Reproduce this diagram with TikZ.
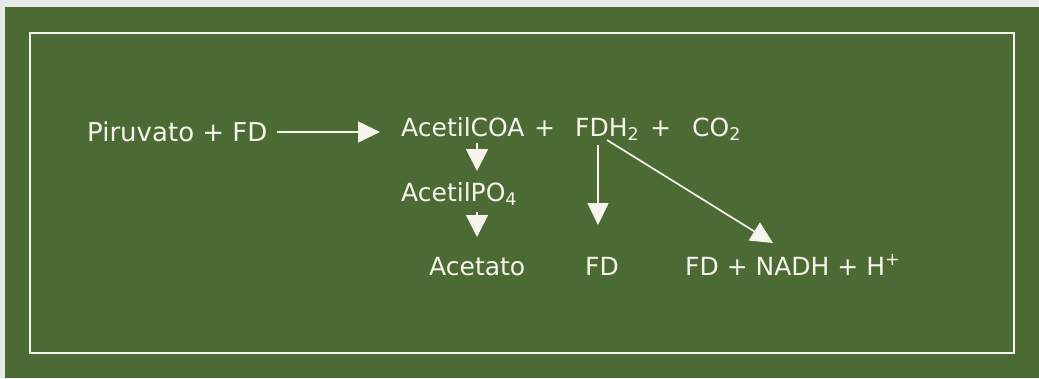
\documentclass[tikz,border=0pt]{standalone}
\usepackage{fontspec}
\setmainfont{DejaVu Sans}
\usetikzlibrary{arrows.meta}
\definecolor{bgpaper}{HTML}{E8EAE8}
\definecolor{board}{HTML}{4C6A34}
\definecolor{chalk}{HTML}{F6F3EC}
\tikzset{
  lbl/.style={inner sep=0pt, anchor=base west, text=chalk, font=\fontsize{25}{30}\selectfont},
  lblbig/.style={lbl, font=\fontsize{26}{31}\selectfont},
  arr/.style={draw=chalk, line width=1.7pt, -{Triangle[width=21pt,length=22pt]}},
  arrshort/.style={draw=chalk, line width=1.7pt, -{Triangle[width=22pt,length=22pt]}},
}
\begin{document}
\begin{tikzpicture}[x=1pt,y=-1pt]
\useasboundingbox (0,0) rectangle (1039,378);
\fill[bgpaper] (0,0) rectangle (1039,378);
\fill[board] (5,7) rectangle (1039,378);
\draw[chalk, line width=1.8pt] (30,33) rectangle (1014,353);

% row 1
\node[lblbig] (pir) at (87,141) {Piruvato + FD};
\node[lbl] (acoa) at (401,136) {AcetilCOA};
\node[lbl] (p1) at (534,136) {+};
\node[lbl] (fdh) at (575,136) {FDH\textsubscript{2}};
\node[lbl] (p2) at (650,136) {+};
\node[lbl] (co2) at (692,136) {CO\textsubscript{2}};
% row 2
\node[lbl] (apo) at (401,201) {AcetilPO\textsubscript{4}};
% row 3
\node[lbl] (acet) at (429,275) {Acetato};
\node[lbl] (fd) at (585,275) {FD};
\node[lbl] (nadh) at (685,275) {FD + NADH + H\textsuperscript{+}};

% connectors
\coordinate (a1s) at (277,132);
\coordinate (a1e) at (380,132);
\draw[arr] (a1s) -- (a1e);

\coordinate (d1s) at (477,143);
\coordinate (d1e) at (477,171);
\draw[arrshort] (d1s) -- (d1e);

\coordinate (d2s) at (477,212);
\coordinate (d2e) at (477,237);
\draw[arrshort] (d2s) -- (d2e);

\coordinate (v1s) at (598,145);
\coordinate (v1e) at (598,225);
\draw[arr] (v1s) -- (v1e);

\coordinate (g1s) at (607,140);
\coordinate (g1e) at (773,243);
\draw[arr] (g1s) -- (g1e);
\end{tikzpicture}
\end{document}
